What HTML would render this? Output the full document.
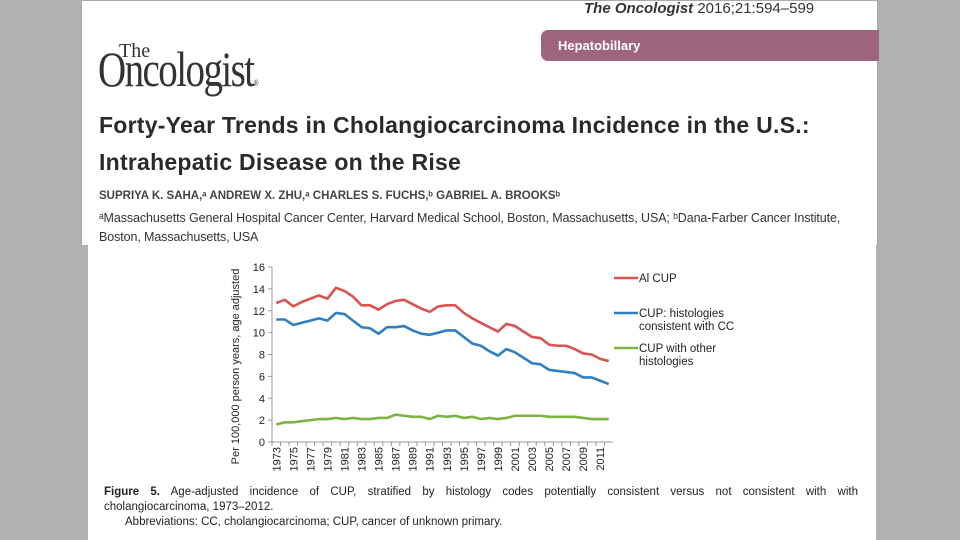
<!DOCTYPE html>
<html><head><meta charset="utf-8"><style>
body{margin:0;width:960px;height:540px;background:#b1b1b1;position:relative;overflow:hidden;font-family:"Liberation Sans",sans-serif}
.p{position:absolute;background:#fff}
.t{position:absolute;white-space:nowrap;color:#222}
.j{text-align:justify;text-align-last:justify;white-space:normal}
</style></head><body>
<div class="p" style="left:81px;top:0;width:797px;height:245px;border:1px solid #aaa;border-bottom:none;box-sizing:border-box"></div>
<div class="p" style="left:88px;top:245px;width:788px;height:295px"></div>
<div class="t" style="left:584px;top:0px;font-size:15px;color:#333"><b><i>The Oncologist</i></b> 2016;21:594–599</div>
<div style="position:absolute;left:541px;top:30px;width:338px;height:31px;background:#a0657e;border-radius:7px 0 0 7px"></div>
<div class="t" style="left:558px;top:38px;font-size:13px;font-weight:bold;color:#fff">Hepatobillary</div>
<div class="t" style="left:98px;top:40px;font-family:'Liberation Serif',serif;font-size:50px;letter-spacing:-2px;color:#333;transform:scaleX(0.78);transform-origin:left">Oncologist<span style="font-size:9px">®</span></div>
<div class="t" style="left:119px;top:40px;font-family:'Liberation Serif',serif;font-size:20px;color:#333">The</div>
<div class="t" style="left:99px;top:107px;font-size:23px;font-weight:bold;color:#2a2a2a;line-height:37px;letter-spacing:0.25px">Forty-Year Trends in Cholangiocarcinoma Incidence in the U.S.:<br>Intrahepatic Disease on the Rise</div>
<div class="t" style="left:99px;top:190px;font-size:11.5px;font-weight:bold;color:#444">SUPRIYA K. SAHA,ᵃ ANDREW X. ZHU,ᵃ CHARLES S. FUCHS,ᵇ GABRIEL A. BROOKSᵇ</div>
<div class="t" style="left:99px;top:209px;font-size:12.5px;color:#333;line-height:19px;letter-spacing:-0.1px">ᵃMassachusetts General Hospital Cancer Center, Harvard Medical School, Boston, Massachusetts, USA; ᵇDana-Farber Cancer Institute,<br>Boston, Massachusetts, USA</div>

<svg id="chart" width="960" height="540" style="position:absolute;left:0;top:0"></svg>

<div class="t j" style="left:104px;top:485px;width:754px;font-size:11.5px;color:#222;line-height:15px"><b>Figure 5.</b> Age-adjusted incidence of CUP, stratified by histology codes potentially consistent versus not consistent with with</div>
<div class="t" style="left:104px;top:500px;font-size:11.5px;color:#222;line-height:15px">cholangiocarcinoma, 1973–2012.</div>
<div class="t" style="left:125px;top:516px;font-size:11.5px;color:#222">Abbreviations: CC, cholangiocarcinoma; CUP, cancer of unknown primary.</div>

<script>
const years=[];for(let y=1973;y<=2012;y++)years.push(y);
const allCup=[12.7,13.0,12.4,12.8,13.1,13.4,13.1,14.1,13.8,13.3,12.5,12.5,12.1,12.6,12.9,13.0,12.6,12.2,11.9,12.4,12.5,12.5,11.8,11.3,10.9,10.5,10.1,10.8,10.6,10.1,9.6,9.5,8.9,8.8,8.8,8.5,8.1,8.0,7.6,7.4];
const cupCC=[11.2,11.2,10.7,10.9,11.1,11.3,11.1,11.8,11.7,11.1,10.5,10.4,9.9,10.5,10.5,10.6,10.2,9.9,9.8,10.0,10.2,10.2,9.6,9.0,8.8,8.3,7.9,8.5,8.2,7.7,7.2,7.1,6.6,6.5,6.4,6.3,5.9,5.9,5.6,5.3];
const cupOther=[1.6,1.8,1.8,1.9,2.0,2.1,2.1,2.2,2.1,2.2,2.1,2.1,2.2,2.2,2.5,2.4,2.3,2.3,2.1,2.4,2.3,2.4,2.2,2.3,2.1,2.2,2.1,2.2,2.4,2.4,2.4,2.4,2.3,2.3,2.3,2.3,2.2,2.1,2.1,2.1];
const yTicks=[0,2,4,6,8,10,12,14,16];
const seriesNames=["Al  CUP","CUP: histologies|consistent with CC","CUP with other|histologies"];
const svg=document.getElementById('chart');const NS='http://www.w3.org/2000/svg';
const X0=272,X1=613,Y0=442,Y1=267;
const step=(X1-X0)/years.length;
const xs=i=>X0+step*(i+0.5);
const ys=v=>Y0-(v/16)*(Y0-Y1);
function mk(t,a){const e=document.createElementNS(NS,t);for(const k in a)e.setAttribute(k,a[k]);svg.appendChild(e);return e;}
let ax=mk('line',{x1:X0,y1:Y1,x2:X0,y2:Y0,stroke:'#999'});


ax=mk('line',{x1:X0,y1:Y0,x2:X1,y2:Y0,stroke:'#999'});


yTicks.forEach(v=>{
 const l=mk('line',{x1:X0-4,y1:ys(v),x2:X0,y2:ys(v),stroke:'#999'});
 
 
 const t=mk('text',{x:X0-7,y:ys(v)+4,'text-anchor':'end','font-size':'11','fill':'#222','font-family':'Liberation Sans'});
 t.textContent=v;
 
 
});
years.forEach((y,i)=>{
 const l=mk('line',{x1:X0+step*i,y1:Y0,x2:X0+step*i,y2:Y0+4,stroke:'#999'});
 
 
 if(i%2===0){
  const t=mk('text',{x:0,y:0,'text-anchor':'end','font-size':'11','fill':'#222','font-family':'Liberation Sans',transform:`translate(${xs(i)+4},${Y0+5}) rotate(-90)`});
  t.textContent=y;
  
  
 }
});
const yt=mk('text',{x:0,y:0,'text-anchor':'middle','font-size':'11','fill':'#222','font-family':'Liberation Sans',transform:`translate(239,${(Y0+Y1)/2+12}) rotate(-90)`});
yt.textContent='Per 100,000 person years, age adjusted';


const cols=['#d9534f','#2f7fc1','#7cb342'];
[allCup,cupCC,cupOther].forEach((s,k)=>{
 const p=mk('polyline',{points:s.map((v,i)=>xs(i)+','+ys(v)).join(' '),fill:'none',stroke:cols[k],'stroke-width':'2.6','stroke-linejoin':'round'});
 
 
 const ly=[278,313,348][k];
 const l=mk('line',{x1:614,y1:ly,x2:638,y2:ly,stroke:cols[k],'stroke-width':'2.5'});
 
 
 seriesNames[k].split('|').forEach((s2,j)=>{
  const t=mk('text',{x:639,y:ly+4+j*13,'font-size':'11.5','fill':'#222','font-family':'Liberation Sans'});
  t.textContent=s2;
  
  
 });
});
</script>
</body></html>
